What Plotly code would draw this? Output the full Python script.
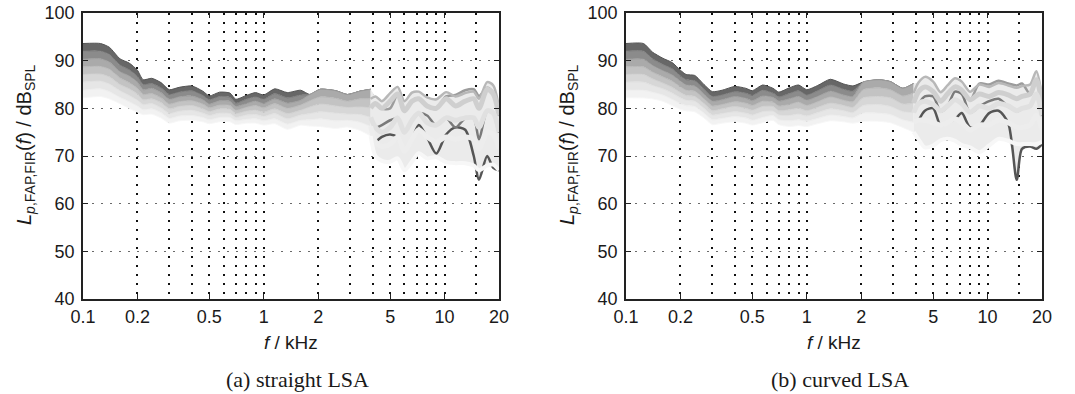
import numpy as np
import plotly.graph_objects as go

# ---------------- data ----------------
FREQ_KHZ = [0.1, 0.125, 0.14, 0.16, 0.18, 0.2, 0.215, 0.24, 0.27, 0.3, 0.34, 0.4, 0.46, 0.5,
            0.57, 0.65, 0.7, 0.8, 0.9, 1.0, 1.15, 1.35, 1.6, 1.8, 2.05, 2.5, 2.9, 3.4, 3.9,
            4.15, 4.5, 5.0, 5.5, 6.0, 6.6, 7.2, 8.0, 9.0, 10.2, 11.5, 13.0, 14.5, 15.5, 17.2, 18.6, 20.0]

# (a) straight LSA : curves ordered from darkest (0) to lightest (7)
STRAIGHT_0 = [93.6, 93.6, 92.8, 90.4, 89.5, 88.0, 86.0, 86.3, 85.4, 83.9, 84.4, 84.7, 83.6, 82.6, 83.4, 83.2, 81.9, 82.7, 83.3, 82.8, 84.1, 83.3, 83.8, 82.9, 84.0, 83.7, 82.9, 83.6, 84.0,
              72.9, 74.0, 74.5, 73.9, 70.9, 73.4, 76.5, 73.9, 70.5, 74.5, 76.0, 75.5, 70.0, 65.0, 70.0, 67.5, 67.0]
STRAIGHT_1 = [92.0, 92.0, 91.3, 89.1, 88.1, 86.7, 85.0, 85.2, 84.3, 82.9, 83.4, 83.7, 82.7, 81.8, 82.5, 82.3, 81.1, 81.9, 82.4, 81.9, 83.1, 82.2, 82.8, 82.9, 84.0, 83.7, 82.9, 83.6, 84.0,
              75.9, 76.5, 77.5, 77.9, 74.9, 77.4, 78.9, 78.5, 76.4, 77.9, 76.0, 77.9, 77.9, 73.5, 79.4, 78.9, 74.9]
STRAIGHT_2 = [90.3, 90.4, 89.7, 87.7, 86.8, 85.5, 83.9, 84.2, 83.3, 81.9, 82.4, 82.6, 81.8, 80.9, 81.6, 81.5, 80.4, 81.0, 81.5, 81.0, 82.0, 81.1, 81.7, 82.9, 84.0, 83.7, 82.9, 83.6, 84.0,
              80.9, 79.9, 80.0, 82.9, 79.4, 81.4, 81.9, 80.4, 79.9, 82.5, 82.8, 83.8, 84.0, 82.6, 84.3, 83.2, 78.4]
STRAIGHT_3 = [88.7, 88.8, 88.2, 86.4, 85.4, 84.2, 82.9, 83.1, 82.2, 80.9, 81.4, 81.6, 80.9, 80.1, 80.7, 80.6, 79.6, 80.2, 80.6, 80.1, 81.0, 80.0, 80.7, 81.6, 82.4, 82.1, 81.5, 82.0, 82.0,
              82.5, 81.5, 83.2, 84.5, 81.5, 83.3, 83.5, 82.3, 81.9, 83.4, 82.5, 83.2, 83.5, 82.0, 85.5, 84.8, 80.0]
STRAIGHT_4 = [87.1, 87.2, 86.6, 85.0, 84.1, 83.0, 81.8, 82.0, 81.2, 79.9, 80.4, 80.6, 79.9, 79.3, 79.9, 79.8, 78.9, 79.4, 79.6, 79.2, 79.9, 78.9, 79.6, 80.3, 80.9, 80.5, 80.2, 80.3, 80.1,
              81.0, 80.0, 81.5, 83.0, 79.5, 81.5, 82.0, 80.5, 80.0, 82.0, 80.5, 81.5, 82.0, 80.0, 84.0, 83.0, 78.5]
STRAIGHT_5 = [85.5, 85.7, 85.1, 83.7, 82.7, 81.7, 80.8, 81.0, 80.1, 78.9, 79.4, 79.6, 79.0, 78.5, 79.0, 78.9, 78.1, 78.6, 78.7, 78.3, 78.9, 77.8, 78.6, 78.9, 79.3, 79.0, 78.8, 78.7, 78.1,
              76.0, 75.0, 76.0, 78.0, 75.0, 77.5, 79.0, 77.0, 76.5, 78.0, 77.5, 78.0, 78.0, 76.0, 79.5, 79.0, 75.0]
STRAIGHT_6 = [83.8, 84.1, 83.5, 82.3, 81.4, 80.5, 79.7, 79.9, 79.1, 77.9, 78.4, 78.5, 78.1, 77.6, 78.1, 78.1, 77.4, 77.7, 77.8, 77.4, 77.8, 76.7, 77.5, 77.6, 77.8, 77.4, 77.5, 77.1, 76.2,
              73.0, 72.0, 72.5, 74.0, 71.0, 73.5, 75.5, 74.0, 73.0, 74.0, 73.5, 74.0, 73.5, 71.5, 75.0, 74.5, 71.5]
STRAIGHT_7 = [82.2, 82.5, 82.0, 81.0, 80.0, 79.2, 78.7, 78.8, 78.0, 76.9, 77.4, 77.5, 77.2, 76.8, 77.2, 77.2, 76.6, 76.9, 76.9, 76.5, 76.8, 75.6, 76.5, 76.3, 76.2, 75.8, 76.1, 75.4, 74.2,
              70.0, 69.0, 68.8, 69.5, 67.0, 68.8, 70.6, 69.5, 69.8, 68.7, 68.5, 68.5, 68.0, 67.0, 68.0, 68.2, 67.0]

# (b) curved LSA
CURVED_0 = [93.6, 93.6, 91.8, 90.5, 89.6, 88.0, 87.1, 86.9, 85.0, 83.5, 83.8, 84.6, 84.2, 83.7, 84.9, 84.2, 83.4, 84.3, 84.9, 83.9, 84.8, 86.1, 85.1, 84.7, 85.5, 86.0, 85.6, 84.2, 85.2,
            77.4, 79.5, 80.0, 76.4, 76.9, 77.7, 79.0, 76.0, 76.4, 79.0, 79.5, 76.9, 65.0, 71.5, 72.0, 71.5, 72.5]
CURVED_1 = [92.0, 92.0, 90.4, 89.2, 88.3, 86.8, 86.0, 85.8, 84.0, 82.5, 82.8, 83.5, 83.2, 82.7, 83.8, 83.2, 82.4, 83.1, 83.7, 82.8, 83.7, 84.9, 84.0, 83.6, 85.5, 86.0, 85.6, 84.2, 85.2,
            80.9, 82.5, 82.5, 79.4, 80.4, 83.5, 83.0, 79.1, 80.4, 81.5, 82.0, 80.4, 79.4, 79.9, 80.4, 82.9, 78.4]
CURVED_2 = [90.3, 90.3, 89.0, 87.9, 87.0, 85.7, 84.9, 84.7, 83.0, 81.5, 81.8, 82.5, 82.1, 81.6, 82.6, 82.3, 81.5, 82.0, 82.5, 81.7, 82.5, 83.6, 82.8, 82.5, 85.5, 86.0, 85.6, 84.2, 85.2,
            83.4, 84.4, 83.4, 81.4, 82.9, 84.4, 83.7, 81.7, 85.2, 85.0, 85.8, 85.2, 84.8, 85.2, 83.0, 85.9, 80.9]
CURVED_3 = [88.7, 88.7, 87.6, 86.6, 85.7, 84.5, 83.8, 83.6, 82.0, 80.5, 80.8, 81.4, 81.1, 80.6, 81.5, 81.3, 80.5, 80.8, 81.3, 80.6, 81.4, 82.4, 81.7, 81.4, 83.9, 84.3, 83.9, 82.6, 83.2,
            85.4, 86.6, 85.6, 83.4, 84.8, 86.3, 85.6, 83.5, 85.0, 84.5, 85.3, 84.8, 84.3, 84.7, 85.0, 87.8, 82.5]
CURVED_4 = [87.1, 87.1, 86.2, 85.3, 84.4, 83.3, 82.7, 82.5, 81.0, 79.5, 79.9, 80.4, 80.0, 79.6, 80.4, 80.4, 79.5, 79.7, 80.0, 79.5, 80.2, 81.1, 80.6, 80.2, 82.2, 82.5, 82.2, 80.9, 81.1,
            83.5, 84.5, 83.5, 81.5, 83.0, 84.5, 83.8, 81.8, 83.0, 82.5, 83.3, 82.8, 82.0, 82.5, 83.0, 86.0, 81.0]
CURVED_5 = [85.5, 85.5, 84.8, 84.1, 83.2, 82.2, 81.7, 81.5, 80.0, 78.6, 78.9, 79.3, 79.0, 78.6, 79.3, 79.4, 78.6, 78.5, 78.8, 78.4, 79.1, 79.9, 79.5, 79.1, 80.6, 80.8, 80.4, 79.3, 79.1,
            81.0, 81.5, 80.8, 79.5, 80.5, 81.8, 81.0, 79.2, 80.5, 80.0, 81.0, 80.5, 79.5, 80.0, 80.5, 83.0, 78.5]
CURVED_6 = [83.8, 83.8, 83.4, 82.8, 81.9, 81.0, 80.6, 80.4, 79.0, 77.6, 77.9, 78.3, 78.0, 77.5, 78.1, 78.5, 77.6, 77.4, 77.6, 77.3, 77.9, 78.6, 78.3, 78.0, 79.0, 79.0, 78.7, 77.6, 77.1,
            77.5, 77.5, 77.0, 76.5, 77.0, 77.8, 77.0, 75.5, 76.5, 76.5, 77.5, 77.0, 76.0, 76.0, 76.5, 78.5, 75.5]
CURVED_7 = [82.2, 82.2, 82.0, 81.5, 80.6, 79.8, 79.5, 79.3, 78.0, 76.6, 76.9, 77.2, 76.9, 76.5, 77.0, 77.5, 76.6, 76.2, 76.4, 76.2, 76.8, 77.4, 77.2, 76.9, 77.3, 77.3, 77.0, 76.0, 75.0,
            73.5, 71.8, 72.2, 73.3, 73.6, 73.2, 72.3, 71.8, 70.8, 72.2, 73.6, 73.2, 72.5, 72.5, 72.5, 72.5, 73.0]

X_TICKS = [0.1, 0.2, 0.5, 1, 2, 5, 10, 20]
X_TICK_TEXT = ['0.1', '0.2', '0.5', '1', '2', '5', '10', '20']
X_GRID = [0.2, 0.3, 0.4, 0.5, 0.6, 0.7, 0.8, 0.9, 1, 2, 3, 4, 5, 6, 7, 8, 9, 10, 15]
Y_TICKS = [40, 50, 60, 70, 80, 90, 100]
CAPTIONS = ['(a) straight LSA', '(b) curved LSA']

STRAIGHT = [STRAIGHT_0, STRAIGHT_1, STRAIGHT_2, STRAIGHT_3, STRAIGHT_4, STRAIGHT_5, STRAIGHT_6, STRAIGHT_7]
CURVED = [CURVED_0, CURVED_1, CURVED_2, CURVED_3, CURVED_4, CURVED_5, CURVED_6, CURVED_7]

# ---------------- style ----------------
GRAYS = ['#555555', '#7a7a7a', '#9c9c9c', '#b8b8b8', '#cfcfcf', '#e0e0e0', '#ededed', '#f7f7f7']
HF_WIDTH = [2.5, 2.5, 2.5, 2.5, 5, 5, 5, 4]
SPLIT = 28  # index of 3.9 kHz: smooth band below, scattered curves above
W, H = 1075, 394
T, B = 13, 95
AX_PX = [(83, 499), (626, 1042)]
SANS = 'Liberation Sans, Arial, Helvetica, sans-serif'
SERIF = 'Liberation Serif, Times New Roman, serif'
TXT = '#1a1a1a'


def mix(a, b):
    a = [int(a[i:i + 2], 16) for i in (1, 3, 5)]
    b = [int(b[i:i + 2], 16) for i in (1, 3, 5)]
    return '#%02x%02x%02x' % tuple((x + y) // 2 for x, y in zip(a, b))


fig = go.Figure()
f = np.array(FREQ_KHZ)


def add_panel(curves, xa, ya):
    # low-frequency band: graded fills between neighbouring curves
    for i, c in enumerate(curves):
        y = np.array(c)
        fig.add_trace(go.Scatter(
            x=f[:SPLIT + 1], y=y[:SPLIT + 1], xaxis=xa, yaxis=ya, mode='lines',
            line=dict(color=GRAYS[i], width=1.0, shape='spline', smoothing=0.6),
            fill='tonexty' if i > 0 else 'none',
            fillcolor=mix(GRAYS[i - 1], GRAYS[i]) if i > 0 else None,
            hoverinfo='skip', showlegend=False))
    # high-frequency part: light envelope + individual curves on top
    stack = np.array(curves)[:, SPLIT:]
    fig.add_trace(go.Scatter(x=f[SPLIT:], y=stack.max(axis=0), xaxis=xa, yaxis=ya, mode='lines',
                             line=dict(width=0, color='#ebebeb', shape='spline', smoothing=0.8),
                             hoverinfo='skip', showlegend=False))
    fig.add_trace(go.Scatter(x=f[SPLIT:], y=stack.min(axis=0), xaxis=xa, yaxis=ya, mode='lines',
                             line=dict(width=0, color='#ebebeb', shape='spline', smoothing=0.8),
                             fill='tonexty', fillcolor='#ebebeb', hoverinfo='skip', showlegend=False))
    for i, c in enumerate(curves):
        s = SPLIT if i >= 3 else SPLIT + 1
        fig.add_trace(go.Scatter(x=f[s:], y=np.array(c)[s:], xaxis=xa, yaxis=ya, mode='lines',
                                 line=dict(color=GRAYS[i], width=HF_WIDTH[i], shape='spline', smoothing=0.8),
                                 hoverinfo='skip', showlegend=False))


add_panel(STRAIGHT, 'x', 'y')
add_panel(CURVED, 'x2', 'y2')

ph = H - T - B


def xaxis_cfg(dom, anchor):
    return dict(domain=dom, anchor=anchor, type='log', range=[-1, np.log10(20)], automargin=False,
                tickmode='array', tickvals=X_TICKS, ticktext=X_TICK_TEXT,
                showgrid=False, ticks='inside', ticklen=5, tickcolor='#222', tickwidth=1,
                showline=True, mirror='ticks', linecolor='#222', linewidth=1.6,
                tickfont=dict(family=SANS, size=18, color=TXT), ticklabelstandoff=1,
                minor=dict(tickvals=X_GRID, showgrid=True, gridcolor='#111', gridwidth=1.7,
                           griddash='2px,7px', ticks=''),
                zeroline=False)


def yaxis_cfg(anchor):
    return dict(domain=[0, 1], anchor=anchor, range=[40, 100], automargin=False,
                tickmode='array', tickvals=Y_TICKS,
                showgrid=True, gridcolor='#6a6a6a', gridwidth=1, griddash='2px,7px',
                ticks='inside', ticklen=5, tickcolor='#222', tickwidth=1,
                showline=True, mirror='ticks', linecolor='#222', linewidth=1.6,
                tickfont=dict(family=SANS, size=18, color=TXT), ticklabelstandoff=3, zeroline=False)


d1 = [AX_PX[0][0] / W, AX_PX[0][1] / W]
d2 = [AX_PX[1][0] / W, AX_PX[1][1] / W]

fig.update_layout(
    template='none',
    width=W, height=H, margin=dict(l=0, r=0, t=T, b=B, autoexpand=False),
    paper_bgcolor='white', plot_bgcolor='white',
    xaxis=xaxis_cfg(d1, 'y'), yaxis=yaxis_cfg('x'),
    xaxis2=xaxis_cfg(d2, 'y2'), yaxis2=yaxis_cfg('x2'),
)

ytitle = '<i>L</i><sub><i>p</i>,FAP,FIR</sub>(<i>f</i>) / dB<sub>SPL</sub>'
for k, (x0, x1) in enumerate(AX_PX):
    xc = (x0 + x1) / 2 / W
    fig.add_annotation(text='<i>f</i> / kHz', xref='paper', yref='paper', x=xc, y=(299 - 342) / ph,
                       showarrow=False, xanchor='center', yanchor='middle',
                       font=dict(family=SANS, size=19, color=TXT))
    fig.add_annotation(text=CAPTIONS[k], xref='paper', yref='paper', x=xc + 6 / W, y=(299 - 379) / ph,
                       showarrow=False, xanchor='center', yanchor='middle',
                       font=dict(family=SERIF, size=22, color=TXT))
    fig.add_annotation(text=ytitle, xref='paper', yref='paper', x=(x0 - 58) / W, y=(299 - 145) / ph,
                       showarrow=False, textangle=-90, xanchor='center', yanchor='middle',
                       font=dict(family=SANS, size=20, color=TXT))

fig.write_html('out.html')
